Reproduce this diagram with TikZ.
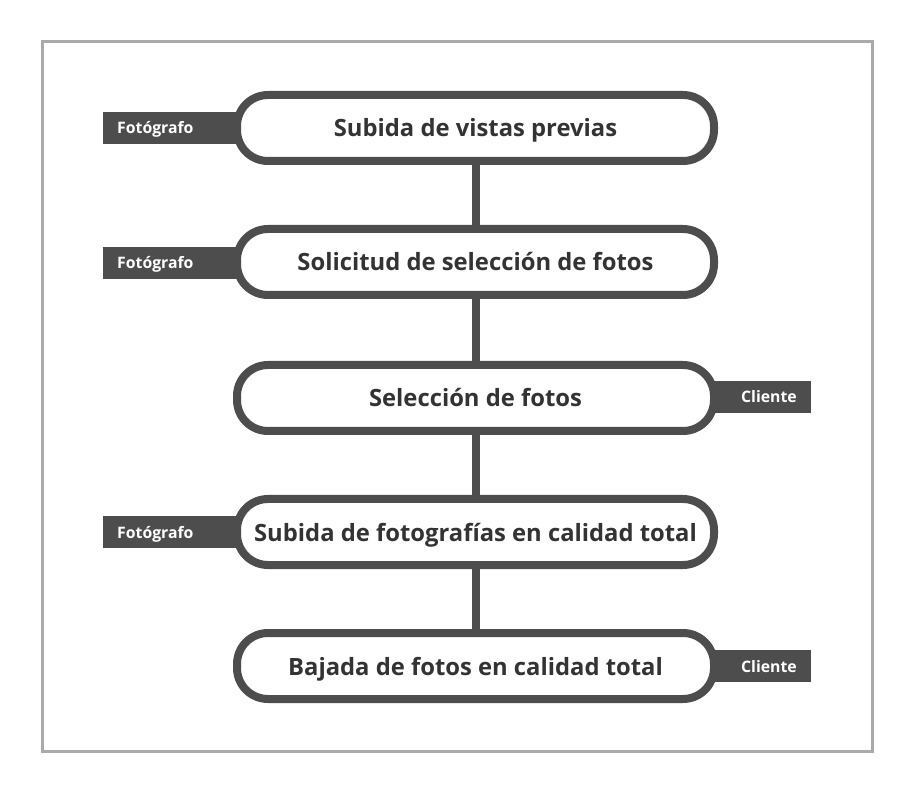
\documentclass[tikz,border=0pt]{standalone}
\usepackage{fontspec}
\setmainfont{Open Sans}
\definecolor{dk}{HTML}{4D4D4D}
\definecolor{txt}{HTML}{333333}
\definecolor{frame}{HTML}{AAAAAA}
\tikzset{
  pill/.style={draw=dk, line width=8pt, fill=white, rounded corners=31pt,
    minimum width=477pt, minimum height=66pt, inner sep=0pt,
    text height=18pt, text depth=0pt,
    font=\fontsize{23.8}{26}\selectfont\bfseries, text=txt},
  link/.style={draw=dk, line width=8pt},
  tagL/.style={fill=dk, text=white, font=\fontsize{15.8}{18}\selectfont\bfseries,
    text height=12pt, text depth=0pt,
    minimum height=32pt, inner xsep=14pt, inner ysep=0pt, text width=122pt, align=left, anchor=west},
  tagR/.style={fill=dk, text=white, font=\fontsize{15.8}{18}\selectfont\bfseries,
    text height=12pt, text depth=0pt,
    minimum height=32pt, inner xsep=14pt, inner ysep=0pt, text width=83pt, align=right, anchor=east},
}
\begin{document}
\begin{tikzpicture}[x=1pt,y=-1pt]
\useasboundingbox (0,0) rectangle (914,794);
\fill[white] (0,0) rectangle (914,794);
\draw[frame, line width=3pt] (42,42) rectangle (872,751);
% tags
\node[tagL] (t1) at (103,128) {Fotógrafo};
\node[tagL] (t2) at (103,263) {Fotógrafo};
\node[tagR] (t3) at (811,397) {Cliente};
\node[tagL] (t4) at (103,532) {Fotógrafo};
\node[tagR] (t5) at (811,666) {Cliente};
% pills
\node[pill] (p1) at (475.5,128) {Subida de vistas previas};
\node[pill] (p2) at (475.5,262) {Solicitud de selección de fotos};
\node[pill] (p3) at (475.5,398) {Selección de fotos};
\node[pill] (p4) at (475.5,532) {Subida de fotografías en calidad total};
\node[pill] (p5) at (475.5,666) {Bajada de fotos en calidad total};
% links
\draw[link] (p1) -- (p2);
\draw[link] (p2) -- (p3);
\draw[link] (p3) -- (p4);
\draw[link] (p4) -- (p5);
\end{tikzpicture}
\end{document}
